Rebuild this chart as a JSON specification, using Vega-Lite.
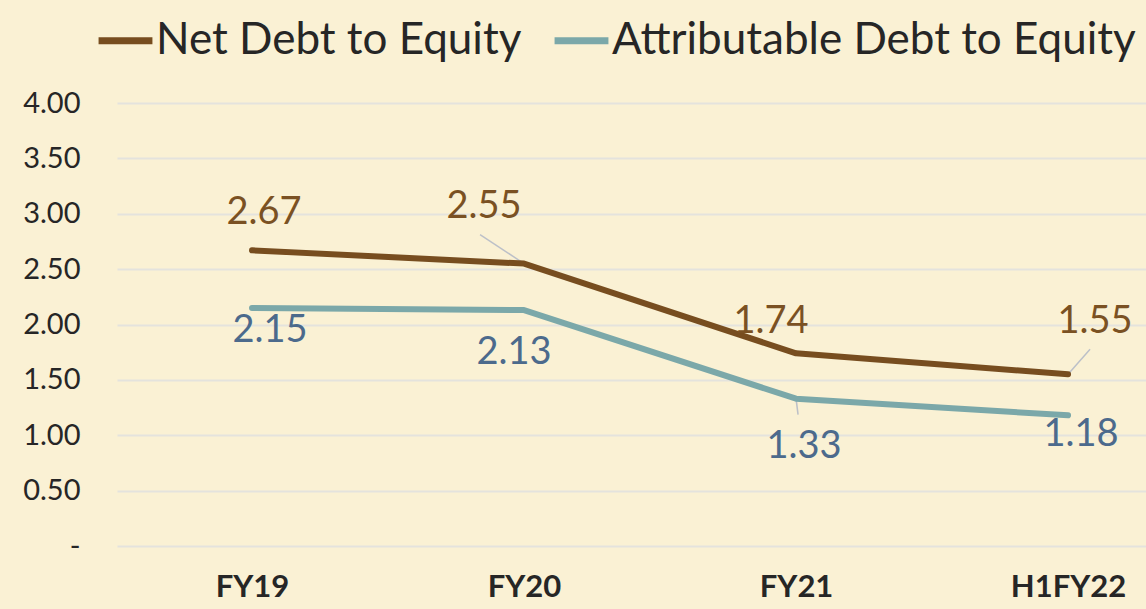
{
  "$schema": "https://vega.github.io/schema/vega-lite/v6.json",
  "width": 1029,
  "height": 443,
  "autosize": {"type": "none"},
  "padding": {"left": 117, "top": 103, "right": 0, "bottom": 63},
  "background": "#FAF1D4",
  "config": {
    "view": {"stroke": null},
    "font": "Lato",
    "axis": {"domain": false, "ticks": false}
  },
  "data": {
    "values": [
      {"period": "FY19", "series": "Net Debt to Equity", "value": 2.67},
      {"period": "FY20", "series": "Net Debt to Equity", "value": 2.55},
      {"period": "FY21", "series": "Net Debt to Equity", "value": 1.74},
      {"period": "H1FY22", "series": "Net Debt to Equity", "value": 1.55},
      {"period": "FY19", "series": "Attributable Debt to Equity", "value": 2.15},
      {"period": "FY20", "series": "Attributable Debt to Equity", "value": 2.13},
      {"period": "FY21", "series": "Attributable Debt to Equity", "value": 1.33},
      {"period": "H1FY22", "series": "Attributable Debt to Equity", "value": 1.18}
    ]
  },
  "encoding": {
    "x": {
      "field": "period", "type": "ordinal",
      "sort": ["FY19", "FY20", "FY21", "H1FY22"],
      "scale": {"type": "point", "padding": 0.3915, "align": 0.634},
      "axis": {"title": null, "labelAngle": 0, "labelFontSize": 31, "labelFontWeight": "bold", "labelColor": "#262626", "labelPadding": 26, "grid": false}
    },
    "y": {
      "field": "value", "type": "quantitative",
      "scale": {"domain": [0, 4]},
      "axis": {
        "title": null, "values": [0, 0.5, 1, 1.5, 2, 2.5, 3, 3.5, 4],
        "labelExpr": "datum.value == 0 ? '-\u00a0\u00a0\u00a0' : format(datum.value, '.2f')",
        "labelFontSize": 29, "labelColor": "#262626", "labelPadding": 37,
        "gridColor": "#E4E3DD", "gridWidth": 2
      }
    }
  },
  "layer": [
    {"transform": [{"filter": "datum.series == 'Net Debt to Equity' && datum.period == 'FY20'"}],
     "mark": {"type": "rule", "color": "#BCC0C8", "strokeWidth": 1.5, "x2Offset": -44, "y2Offset": -29},
     "encoding": {"x2": {"field": "period"}, "y2": {"field": "value"}}},
    {"transform": [{"filter": "datum.series == 'Net Debt to Equity' && datum.period == 'H1FY22'"}],
     "mark": {"type": "rule", "color": "#BCC0C8", "strokeWidth": 1.5, "x2Offset": 22, "y2Offset": -25},
     "encoding": {"x2": {"field": "period"}, "y2": {"field": "value"}}},
    {"transform": [{"filter": "datum.series == 'Attributable Debt to Equity' && datum.period == 'FY21'"}],
     "mark": {"type": "rule", "color": "#BCC0C8", "strokeWidth": 1.5, "x2Offset": 2, "y2Offset": 16},
     "encoding": {"x2": {"field": "period"}, "y2": {"field": "value"}}},
    {
      "mark": {"type": "line", "strokeWidth": 6, "strokeCap": "round", "strokeJoin": "round"},
      "encoding": {
        "color": {
          "field": "series", "type": "nominal",
          "scale": {"domain": ["Net Debt to Equity", "Attributable Debt to Equity"], "range": ["#774D1F", "#7BA8A9"]},
          "legend": {
            "title": null, "orient": "none", "legendX": -22, "legendY": -93, "direction": "horizontal",
            "symbolType": "stroke", "symbolStrokeWidth": 7, "symbolSize": 2900,
            "labelFontSize": 44, "labelColor": "#262626", "labelOffset": 0, "columnPadding": 18, "labelLimit": 800
          }
        }
      }
    },
    {"transform": [{"filter": "datum.series == 'Net Debt to Equity' && datum.period == 'FY19'"}],
     "mark": {"type": "text", "fontSize": 38, "color": "#7A5123", "dx": 12, "dy": -37},
     "encoding": {"text": {"field": "value", "format": ".2f"}}},
    {"transform": [{"filter": "datum.series == 'Net Debt to Equity' && datum.period == 'FY20'"}],
     "mark": {"type": "text", "fontSize": 38, "color": "#7A5123", "dx": -40, "dy": -57},
     "encoding": {"text": {"field": "value", "format": ".2f"}}},
    {"transform": [{"filter": "datum.series == 'Net Debt to Equity' && datum.period == 'FY21'"}],
     "mark": {"type": "text", "fontSize": 38, "color": "#7A5123", "dx": -25, "dy": -31},
     "encoding": {"text": {"field": "value", "format": ".2f"}}},
    {"transform": [{"filter": "datum.series == 'Net Debt to Equity' && datum.period == 'H1FY22'"}],
     "mark": {"type": "text", "fontSize": 38, "color": "#7A5123", "dx": 27, "dy": -52},
     "encoding": {"text": {"field": "value", "format": ".2f"}}},
    {"transform": [{"filter": "datum.series == 'Attributable Debt to Equity' && datum.period == 'FY19'"}],
     "mark": {"type": "text", "fontSize": 38, "color": "#4C6A8C", "dx": 18, "dy": 23},
     "encoding": {"text": {"field": "value", "format": ".2f"}}},
    {"transform": [{"filter": "datum.series == 'Attributable Debt to Equity' && datum.period == 'FY20'"}],
     "mark": {"type": "text", "fontSize": 38, "color": "#4C6A8C", "dx": -10, "dy": 43},
     "encoding": {"text": {"field": "value", "format": ".2f"}}},
    {"transform": [{"filter": "datum.series == 'Attributable Debt to Equity' && datum.period == 'FY21'"}],
     "mark": {"type": "text", "fontSize": 38, "color": "#4C6A8C", "dx": 8, "dy": 48},
     "encoding": {"text": {"field": "value", "format": ".2f"}}},
    {"transform": [{"filter": "datum.series == 'Attributable Debt to Equity' && datum.period == 'H1FY22'"}],
     "mark": {"type": "text", "fontSize": 38, "color": "#4C6A8C", "dx": 13, "dy": 20},
     "encoding": {"text": {"field": "value", "format": ".2f"}}}
  ]
}
